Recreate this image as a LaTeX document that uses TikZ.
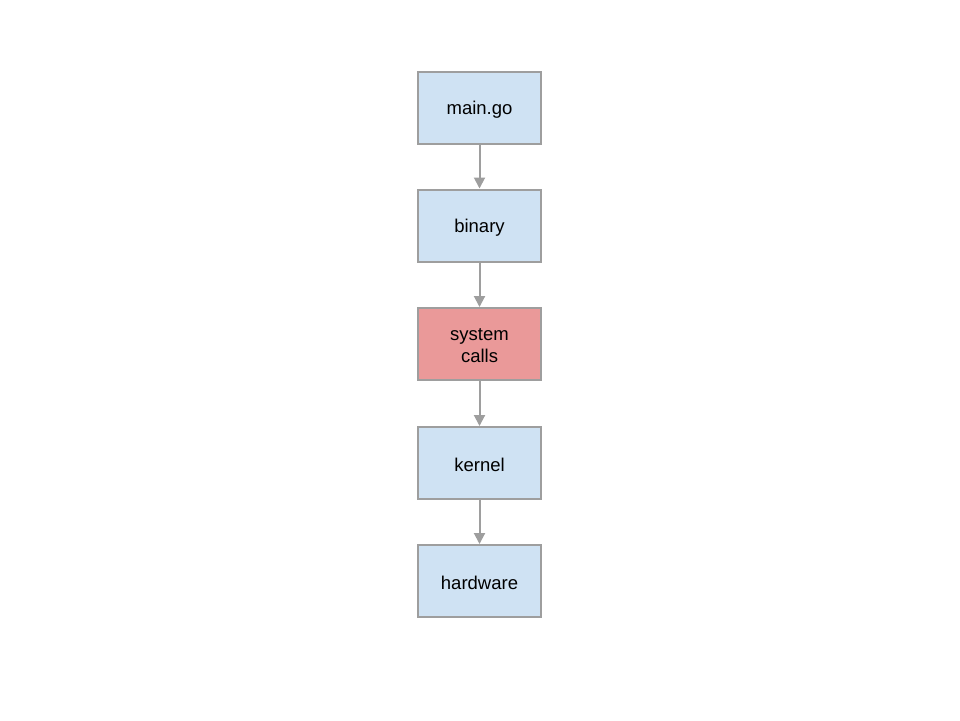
\documentclass[tikz,border=0pt]{standalone}
\usepackage{fontspec}
\setmainfont{Liberation Sans}
\usetikzlibrary{arrows.meta}
\definecolor{boxblue}{HTML}{CFE2F3}
\definecolor{boxred}{HTML}{EA9999}
\definecolor{edgegray}{HTML}{9E9E9E}
\newcommand{\dn}[1]{\raisebox{-2pt}[\height][\depth]{#1}}
\begin{document}
\begin{tikzpicture}[x=1pt,y=-1pt,
  layer/.style={draw=edgegray,line width=2pt,minimum width=123pt,minimum height=72pt,inner sep=0pt,align=center,font=\fontsize{18.5}{22}\selectfont,text=black},
  conn/.style={draw=edgegray,line width=2pt,-{Triangle[length=11pt,width=11pt]}}]
\useasboundingbox (0,0) rectangle (960,720);
\node[layer,fill=boxblue] (main) at (479.5,108) {\dn{main.go}};
\node[layer,fill=boxblue] (bin) at (479.5,225.5) {\dn{binary}};
\node[layer,fill=boxred] (sys) at (479.5,344) {\dn{system}\\\dn{calls}};
\node[layer,fill=boxblue] (ker) at (479.5,463) {\dn{kernel}};
\node[layer,fill=boxblue] (hw) at (479.5,581) {\dn{hardware}};
\draw[conn] (main) -- (bin);
\draw[conn] (bin) -- (sys);
\draw[conn] (sys) -- (ker);
\draw[conn] (ker) -- (hw);
\end{tikzpicture}
\end{document}
